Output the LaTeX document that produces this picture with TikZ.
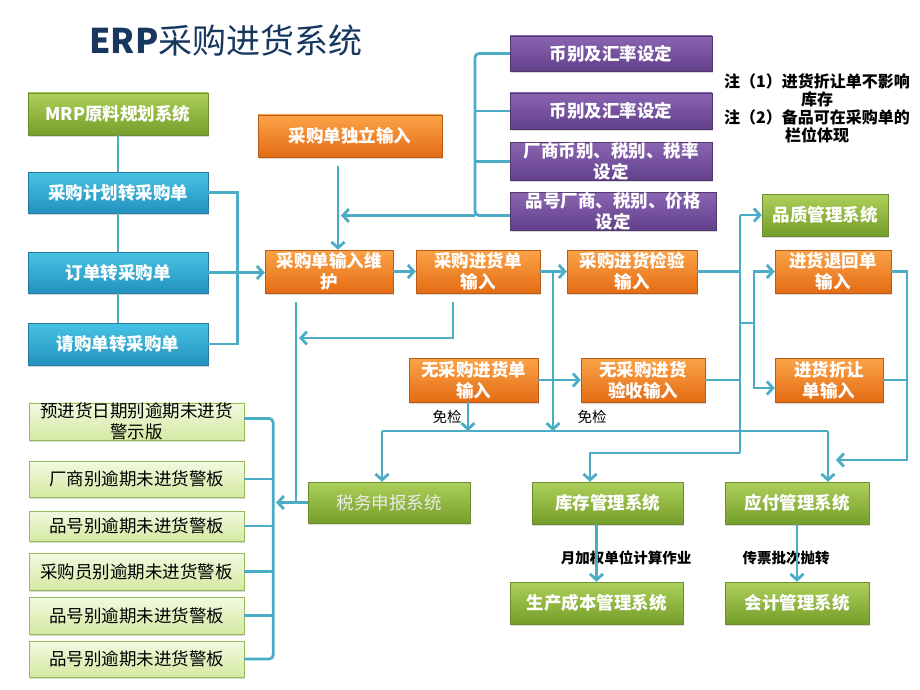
\documentclass[tikz,border=0pt]{standalone}
\usepackage{fontspec}
\setmainfont{Noto Sans CJK SC}
\usetikzlibrary{arrows.meta,shadows}
\definecolor{myline}{RGB}{75,172,198}
\definecolor{mynavy}{RGB}{23,55,94}
\definecolor{mygreentop}{RGB}{172,208,90}
\definecolor{mygreenbot}{RGB}{118,158,42}
\definecolor{mygreenline}{RGB}{110,140,50}
\definecolor{mybluetop}{RGB}{70,195,228}
\definecolor{mybluebot}{RGB}{36,146,190}
\definecolor{myblueline}{RGB}{40,120,160}
\definecolor{myorangetop}{RGB}{251,163,72}
\definecolor{myorangebot}{RGB}{228,108,20}
\definecolor{myorangeline}{RGB}{185,90,25}
\definecolor{mypurpletop}{RGB}{138,100,178}
\definecolor{mypurplebot}{RGB}{98,64,138}
\definecolor{mypurpleline}{RGB}{80,55,110}
\definecolor{mywarntop}{RGB}{242,249,224}
\definecolor{mywarnbot}{RGB}{212,233,162}
\definecolor{mywarnline}{RGB}{150,185,90}

\begin{document}
\begin{tikzpicture}[x=1pt,y=-1pt,
  box/.style={draw,inner sep=0pt,align=center,text=white,
    font=\fontsize{17.5}{21}\selectfont\bfseries,
    drop shadow={opacity=0.3,shadow xshift=1pt,shadow yshift=-2pt}},
  sysnode/.style={box,draw=mygreenline,top color=mygreentop,bottom color=mygreenbot},
  srcnode/.style={box,draw=myblueline,top color=mybluetop,bottom color=mybluebot},
  inpnode/.style={box,draw=myorangeline,top color=myorangetop,bottom color=myorangebot},
  setnode/.style={box,draw=mypurpleline,top color=mypurpletop,bottom color=mypurplebot},
  warnnode/.style={box,draw=mywarnline,top color=mywarntop,bottom color=mywarnbot,
    text=black,font=\fontsize{17.5}{21}\selectfont,minimum width=215},
  lbl/.style={font=\fontsize{14.5}{16}\selectfont,inner sep=0pt},
  conn/.style={draw=myline,line width=2.8pt},
  arr/.style={conn,-{Straight Barb[length=6pt,width=13pt]}}]

  \useasboundingbox (0,0) rectangle (920,690);

  \node[text=mynavy,font=\fontsize{34}{40}\selectfont] (title) at (226,41) {{\bfseries ERP}采购进货系统};

  % source column
  \node[sysnode,minimum width=180,minimum height=42] (mrp) at (118,114) {MRP原料规划系统};
  \node[srcnode,minimum width=180,minimum height=41] (plan) at (118,192.5) {采购计划转采购单};
  \node[srcnode,minimum width=180,minimum height=41] (order) at (118,272.5) {订单转采购单};
  \node[srcnode,minimum width=180,minimum height=42] (req) at (118,344) {请购单转采购单};

  % settings
  \node[inpnode,minimum width=184,minimum height=42] (indep) at (350,136) {采购单独立输入};
  \node[setnode,minimum width=202,minimum height=35] (cur1) at (611,53.5) {币别及汇率设定};
  \node[setnode,minimum width=202,minimum height=36] (cur2) at (611,111) {币别及汇率设定};
  \node[setnode,minimum width=202,minimum height=37] (tax) at (611,161.5) {厂商币别、税别、税率\\设定};
  \node[setnode,minimum width=206,minimum height=37] (price) at (613,211.5) {品号厂商、税别、价格\\设定};
  \node[font=\fontsize{16}{18}\selectfont\bfseries,align=center] (notes) at (817,108)
    {注（1）进货折让单不影响\\库存\\注（2）备品可在采购单的\\栏位体现};

  % input rows
  \node[sysnode,minimum width=126,minimum height=42] (quality) at (825,215) {品质管理系统};
  \node[inpnode,minimum width=128,minimum height=43] (maint) at (329,271.5) {采购单输入维\\护};
  \node[inpnode,minimum width=124,minimum height=43] (receipt) at (478,271.5) {采购进货单\\输入};
  \node[inpnode,minimum width=130,minimum height=43] (inspect) at (632,271.5) {采购进货检验\\输入};
  \node[inpnode,minimum width=116,minimum height=43] (retn) at (833,271.5) {进货退回单\\输入};
  \node[inpnode,minimum width=129,minimum height=44] (nopo) at (473.5,380) {无采购进货单\\输入};
  \node[inpnode,minimum width=124,minimum height=44] (noaccept) at (643,380) {无采购进货\\验收输入};
  \node[inpnode,minimum width=108,minimum height=44] (allow) at (829,380) {进货折让\\单输入};
  \node[lbl] (free1) at (447,417) {免检};
  \node[lbl] (free2) at (592,417) {免检};

  % warning boards
  \node[warnnode,minimum height=37] (w1) at (136.5,421.5) {预进货日期别逾期未进货\\警示版};
  \node[warnnode,minimum height=36] (w2) at (136.5,479) {厂商别逾期未进货警板};
  \node[warnnode,minimum height=30] (w3) at (136.5,526) {品号别逾期未进货警板};
  \node[warnnode,minimum height=37] (w4) at (136.5,571.5) {采购员别逾期未进货警板};
  \node[warnnode,minimum height=37] (w5) at (136.5,615.5) {品号别逾期未进货警板};
  \node[warnnode,minimum height=36] (w6) at (136.5,659) {品号别逾期未进货警板};

  % systems
  \node[sysnode,minimum width=162,minimum height=41,font=\fontsize{17.5}{21}\selectfont,
    text=white!92!black] (taxdecl) at (389,502.5) {税务申报系统};
  \node[sysnode,minimum width=151,minimum height=42] (stock) at (607.5,503) {库存管理系统};
  \node[sysnode,minimum width=144,minimum height=42] (payable) at (797,503) {应付管理系统};
  \node[sysnode,minimum width=173,minimum height=42] (cost) at (596.5,603) {生产成本管理系统};
  \node[sysnode,minimum width=144,minimum height=42] (acct) at (797,603) {会计管理系统};
  \node[lbl,font=\fontsize{14.5}{16}\selectfont\bfseries] (costlbl) at (626,558) {月加权单位计算作业};
  \node[lbl,font=\fontsize{14.5}{16}\selectfont\bfseries] (acctlbl) at (786,558) {传票批次抛转};

  % source column links
  \draw[conn] (mrp) -- (plan) (plan) -- (order) (order) -- (req);
  \draw[conn] (plan.east) -- ++(29,0) coordinate (srcbrk) |- (req.east);
  \draw[arr] (order.east) -- (order.east -| maint.west);

  % independent input and settings
  \coordinate (indepdrop) at (338,166);
  \coordinate (setjoin) at (475,215.5);
  \coordinate (indeptip) at (341,215.5);
  \draw[arr] (indepdrop) -- (indepdrop |- maint.north);
  \draw[conn,rounded corners=4pt] (cur1.west) -| (setjoin) -- (setjoin -| price.west);
  \draw[conn] (cur2.west) -- (cur2.west -| setjoin) (tax.west) -- (tax.west -| setjoin);
  \draw[arr] (setjoin) -- (indeptip);

  % main row
  \coordinate (chkfork) at (553,271.5);
  \coordinate (busL) at (382,431);
  \coordinate (busR) at (828,431);
  \draw[arr] (maint) -- (receipt);
  \draw[arr] (receipt) -- (inspect);
  \draw[arr] (chkfork) -- (chkfork |- busL);
  \draw[conn] (busL) -- (busR);
  \draw[arr] (busL) -- (busL |- taxdecl.north);
  \draw[arr] (busR) -- (busR |- payable.north);

  % back to tax declaration
  \coordinate (rcvdrop) at (453,302);
  \coordinate (maintdrop) at (296,302);
  \coordinate (rcvtip) at (299,338);
  \coordinate (warntip) at (276,502.5);
  \draw[conn] (maintdrop) -- (maintdrop |- taxdecl.west);
  \draw[arr] (rcvdrop) |- (rcvtip);
  \draw[arr] (taxdecl.west) -- (warntip);

  % warning bracket
  \draw[conn,rounded corners=4pt] ([yshift=3pt]w1.east) -- ++(29,0) coordinate (warnbrk) -- (warnbrk |- w6.east) -- (w6.east);
  \draw[conn] (w2.east) -- (w2.east -| warnbrk) (w3.east) -- (w3.east -| warnbrk)
    (w4.east) -- (w4.east -| warnbrk) (w5.east) -- (w5.east -| warnbrk);

  % no purchase order
  \coordinate (nopodrop) at (468,402);
  \draw[arr] (nopodrop) -- (nopodrop |- busL);
  \draw[arr] (nopo) -- (noaccept);

  % trunk to quality, returns and stock
  \coordinate (trunkT) at (740,215);
  \coordinate (trunkB) at (740,453);
  \coordinate (retfork) at (740,323);
  \coordinate (retbus) at (754,323);
  \draw[arr] (trunkT) -- (quality.west);
  \draw[conn] (trunkT) -- (trunkB);
  \draw[arr] (trunkB) -| ([xshift=-17.5pt]stock.north);
  \draw[conn] (inspect.east) -- (inspect.east -| trunkB);
  \draw[conn] (noaccept.east) -- (noaccept.east -| trunkB);
  \draw[conn] (retfork) -- (retbus);
  \draw[arr] (retbus) |- (retn.west);
  \draw[arr] (retbus) |- ([yshift=-8pt]allow.west);

  % returns to payable
  \coordinate (payturn) at (907,460);
  \coordinate (paytip) at (836,460);
  \draw[arr] (retn.east) -| (payturn) -- (paytip);
  \draw[conn] (allow.east) -- (allow.east -| payturn);

  % bottom systems
  \draw[arr] (stock.south -| cost.north) -- (cost.north);
  \draw[arr] (payable) -- (acct);

\end{tikzpicture}
\end{document}
